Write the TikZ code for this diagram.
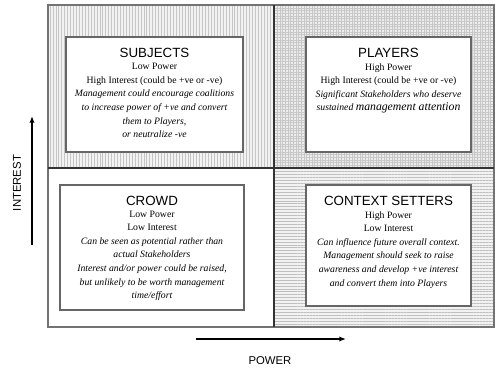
\documentclass[tikz,border=0pt]{standalone}
\usepackage{fontspec}
\setmainfont{Liberation Serif}
\setsansfont{Liberation Sans}
\usetikzlibrary{patterns.meta,arrows.meta,positioning}

\tikzset{every picture/.style={line width=0.75pt}}
\tikzset{
  quadline/.style={draw=black!80, line width=1.5pt},
  infobox/.style={draw=black!60, fill=white, line width=0.9pt, inner sep=0pt},
  heading/.style={font=\sffamily\fontsize{10}{11}\selectfont, inner sep=0pt},
  bodytext/.style={font=\fontsize{7.3}{10.2}\selectfont, align=center, inner sep=0pt},
  axisarrow/.style={line width=1.5pt, -{Latex[length=5pt,width=4pt]}},
  axislabel/.style={font=\sffamily\fontsize{8.5}{10}\selectfont, inner sep=0pt},
}

\begin{document}
\begin{tikzpicture}[x=0.75pt,y=0.75pt,yscale=-1,xscale=1]
	\useasboundingbox (0,0) rectangle (495,368);

	%Quadrants: shading
	\fill [gray!10] (48,5) rectangle (274,168);
	\fill [pattern={Lines[angle=90,distance=2.2pt,line width=0.35pt]}, pattern color=gray!45] (48,5) rectangle (274,168);
	\fill [gray!14] (274,5) rectangle (494,168);
	\fill [pattern={Hatch[angle=0,distance=2pt,line width=0.3pt]}, pattern color=gray!45] (274,5) rectangle (494,168);
	\fill [gray!10] (274,168) rectangle (494,327);
	\fill [pattern={Lines[angle=0,distance=2.2pt,line width=0.4pt]}, pattern color=gray!50] (274,168) rectangle (494,327);
	%Quadrants: frame
	\draw [black!55, line width=0.9pt] (48,5) rectangle (494,327);
	\draw [quadline] (48,168) -- (494,168);
	\draw [quadline] (274,5) -- (274,327);

	%Boxes
	\node [infobox, minimum width=132.75pt, minimum height=86.25pt] (subjects) at (154.5,94.5) {};
	\node [infobox, minimum width=123.75pt, minimum height=86.25pt] (players) at (388.5,94.5) {};
	\node [infobox, minimum width=138pt, minimum height=93.75pt] (crowd) at (152,247.5) {};
	\node [infobox, minimum width=123.75pt, minimum height=90.75pt] (context) at (388.5,245.5) {};

	% Text Node
	\node [heading, below=8.5pt of subjects.north] (subjectsT) {SUBJECTS};
	\node [bodytext, below=3.5pt of subjectsT] (subjectsB) {Low Power\\High Interest (could be +ve or -ve)\\
		\itshape Management could encourage coalitions\\ \itshape to increase power of +ve and convert\\
		\itshape them to Players,\\ \itshape or neutralize -ve};
	% Text Node
	\node [heading, below=8.5pt of players.north] (playersT) {PLAYERS};
	\node [bodytext, below=3.5pt of playersT] (playersB) {High Power\\High Interest (could be +ve or -ve)\\
		\itshape Significant Stakeholders who deserve\\ \itshape sustained {\fontsize{8.8}{10.2}\selectfont management attention}};
	% Text Node
	\node [heading, below=8.5pt of crowd.north] (crowdT) {CROWD};
	\node [bodytext, below=3pt of crowdT] (crowdB) {Low Power\\Low Interest\\
		\itshape Can be seen as potential rather than\\ \itshape actual Stakeholders\\
		\itshape Interest and/or power could be raised,\\ \itshape but unlikely to be worth management\\ \itshape time/effort};
	% Text Node
	\node [heading, below=8.5pt of context.north] (contextT) {CONTEXT SETTERS};
	\node [bodytext, below=3.5pt of contextT] (contextB) {High Power\\Low Interest\\
		\itshape Can influence future overall context.\\ \itshape Management should seek to raise\\
		\itshape awareness and develop +ve interest\\ \itshape and convert them into Players};

	%Axes
	\coordinate (powerA) at (196,339);
	\coordinate (powerB) at (346,339);
	\coordinate (interestA) at (32,245);
	\coordinate (interestB) at (32,116);
	\draw [axisarrow] (powerA) -- (powerB);
	\draw [axisarrow] (interestA) -- (interestB);
	\node [axislabel] (power) at (270,361) {POWER};
	\node [axislabel, rotate=90] (interest) at (17,183) {INTEREST};

\end{tikzpicture}
\end{document}
